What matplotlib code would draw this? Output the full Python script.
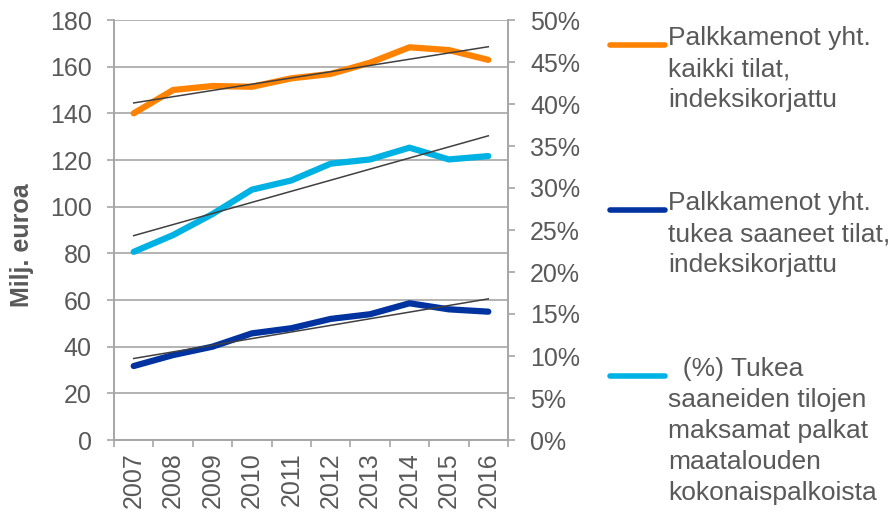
import numpy as np
import matplotlib
matplotlib.use('Agg')
from matplotlib import pyplot as plt
from matplotlib.lines import Line2D
from matplotlib.ticker import FuncFormatter

plt.rcParams['font.family'] = ['Liberation Sans', 'DejaVu Sans']

years = ['2007', '2008', '2009', '2010', '2011', '2012', '2013', '2014', '2015', '2016']
# Milj. euroa
kaikki = [140.0, 150.0, 151.7, 151.4, 155.0, 156.9, 161.7, 168.3, 167.1, 162.9]
tukea = [31.7, 36.4, 40.0, 45.7, 47.9, 51.9, 53.9, 58.6, 56.0, 55.0]
# osuus (%)
osuus = [22.4, 24.4, 26.9, 29.8, 30.9, 32.9, 33.4, 34.8, 33.4, 33.8]

labels = [
    'Palkkamenot yht.\nkaikki tilat,\nindeksikorjattu',
    'Palkkamenot yht.\ntukea saaneet tilat,\nindeksikorjattu',
    '  (%) Tukea\nsaaneiden tilojen\nmaksamat palkat\nmaatalouden\nkokonaispalkoista',
]

ORANGE = '#ff8200'
NAVY = '#0033a0'
CYAN = '#00b2e3'
GRID = '#a6a6a6'
TEXT = '#595959'
TREND = '#404040'
FS = 18
LEG_FS = 19

W, H = 893, 515
fig = plt.figure(figsize=(W / 100, H / 100), dpi=100)
ax = fig.add_axes([114 / W, 1 - 440 / H, 394 / W, 420 / H])
ax2 = ax.twinx()

x = np.arange(len(years)) + 0.5


def trend(values):
    k, b = np.polyfit(x, values, 1)
    return k * x + b


ax.plot(x, trend(kaikki), color=TREND, lw=1.1, zorder=4)
ax.plot(x, trend(tukea), color=TREND, lw=1.1, zorder=4)
ax.plot(x, kaikki, color=ORANGE, lw=4.5, solid_capstyle='round', zorder=3)
ax.plot(x, tukea, color=NAVY, lw=4.5, solid_capstyle='round', zorder=3)

osuus_frac = np.array(osuus) / 100
ax2.plot(x, osuus_frac, color=CYAN, lw=4.5, solid_capstyle='round', zorder=3)
ax2.plot(x, trend(osuus_frac), color=TREND, lw=1.1, zorder=4)

ax.set_xlim(0, len(years))
ax.set_ylim(0, 180)
ax.set_yticks(range(0, 181, 20))
ax2.set_ylim(0, 0.5)
ax2.set_yticks(np.arange(0, 0.51, 0.05))
ax2.yaxis.set_major_formatter(FuncFormatter(lambda v, p: f'{v * 100:.0f}%'))

ax.set_xticks(range(len(years) + 1))
ax.set_xticklabels([])
ax.set_xticks(x, minor=True)
ax.set_xticklabels(years, minor=True, rotation=90, va='top', ha='center')

ax.grid(axis='y', color=GRID, lw=1.2)
ax.set_axisbelow(True)
for a in (ax, ax2):
    a.spines['top'].set_visible(False)
    for s in ('left', 'right', 'bottom'):
        a.spines[s].set_color(GRID)
        a.spines[s].set_linewidth(1.2)
ax.tick_params(axis='y', length=5, width=1.2, color=GRID, pad=11, labelsize=FS, labelcolor=TEXT)
ax2.tick_params(axis='y', length=5, width=1.2, color=GRID, pad=11, labelsize=FS, labelcolor=TEXT)
ax.tick_params(axis='x', which='major', length=5, width=1.2, color=GRID)
ax.tick_params(axis='x', which='minor', length=0, pad=9, labelsize=FS, labelcolor=TEXT)

fig.text(22 / W, 1 - 245 / H, 'Milj. euroa', rotation=90, ha='center', va='center',
         fontsize=FS, fontweight='bold', color=TEXT)

# legend, drawn by hand so the handle sits on the first text line
for label, color, ypix in zip(labels, [ORANGE, NAVY, CYAN], [45, 210, 376]):
    yf = 1 - ypix / H
    fig.add_artist(Line2D([610 / W, 665 / W], [yf, yf], transform=fig.transFigure,
                          color=color, lw=4, solid_capstyle='round'))
    fig.text(668 / W, 1 - (ypix - 19) / H, label, ha='left', va='top',
             fontsize=LEG_FS, color=TEXT, linespacing=1.37)

fig.savefig('out.png', dpi=100)
